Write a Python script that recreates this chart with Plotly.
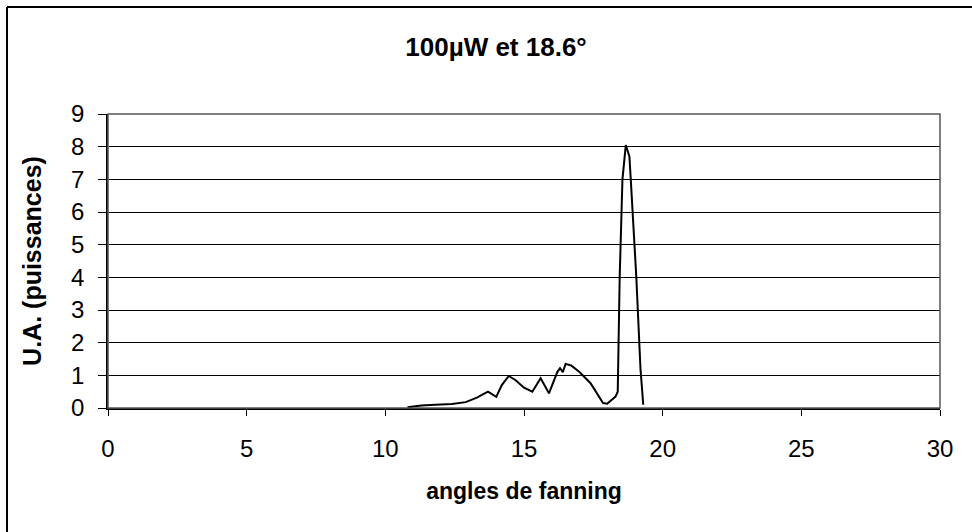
import plotly.graph_objects as go

# Data
angles = [10.8, 11.3, 11.8, 12.4, 12.9, 13.3, 13.7, 14.0, 14.2, 14.45, 14.7, 15.0, 15.3,
          15.6, 15.9, 16.2, 16.3, 16.4, 16.5, 16.7, 17.0, 17.4, 17.85, 18.0, 18.3, 18.38,
          18.45, 18.55, 18.67, 18.8, 18.85, 19.05, 19.2, 19.3]
puissances = [0.02, 0.08, 0.1, 0.12, 0.18, 0.32, 0.5, 0.34, 0.7, 0.98, 0.85, 0.62, 0.5,
              0.91, 0.45, 1.1, 1.22, 1.1, 1.35, 1.3, 1.1, 0.76, 0.15, 0.13, 0.35, 0.5,
              4.0, 7.0, 8.05, 7.7, 7.0, 4.0, 1.2, 0.1]

x_ticks = [0, 5, 10, 15, 20, 25, 30]
y_ticks = [0, 1, 2, 3, 4, 5, 6, 7, 8, 9]

title_text = "100µW et 18.6°"
x_title = "angles de fanning"
y_title = "U.A. (puissances)"

FONT = "Liberation Sans, Arial, sans-serif"

fig = go.Figure()
fig.add_trace(go.Scatter(x=angles, y=puissances, mode="lines",
                         line=dict(color="black", width=2), showlegend=False))

W, H = 972, 532
L, R, T, B = 108, 32, 114, 124
pw, ph = W - L - R, H - T - B

def px_x(p):
    return (p - L) / pw

def px_y(p):
    return (H - B - p) / ph

fig.update_layout(
    width=W, height=H,
    margin=dict(l=L, r=R, t=T, b=B),
    paper_bgcolor="white", plot_bgcolor="white",
    font=dict(family=FONT, color="black", size=22),
    title=dict(text="<b>" + title_text + "</b>", x=496 / W, xref="container", xanchor="center",
               y=1 - 47 / H, yref="container", yanchor="middle",
               font=dict(size=26, family=FONT, color="black")),
    xaxis=dict(range=[0, 30], tickvals=x_ticks, ticks="outside", ticklen=6, tickcolor="black",
               showline=True, linecolor="black", linewidth=1.5, showgrid=False, zeroline=False,
               tickfont=dict(size=24), ticklabelstandoff=12,
               title=dict(text="<b>" + x_title + "</b>", font=dict(size=23), standoff=22)),
    yaxis=dict(range=[0, 9], tickvals=y_ticks, ticks="outside", ticklen=8, tickcolor="black",
               showline=True, linecolor="black", linewidth=1.5, showgrid=True, gridcolor="black",
               gridwidth=1, zeroline=False, tickfont=dict(size=24), ticklabelstandoff=9,
               title=dict(text="<b>" + y_title + "</b>", font=dict(size=25), standoff=22)),
)

# plot area border (top & right)
fig.add_shape(type="rect", xref="paper", yref="paper", x0=0, y0=0, x1=1, y1=1,
              line=dict(color="#555", width=1.5), layer="above")
# outer frame (top and left edges visible in the reference)
fig.add_shape(type="line", xref="paper", yref="paper", x0=px_x(7), y0=px_y(7), x1=px_x(975), y1=px_y(7),
              line=dict(color="black", width=2))
fig.add_shape(type="line", xref="paper", yref="paper", x0=px_x(7), y0=px_y(7), x1=px_x(7), y1=px_y(535),
              line=dict(color="black", width=2))

fig.write_html("out.html", config={"displayModeBar": False},
               post_script="document.body.style.margin='0';")
